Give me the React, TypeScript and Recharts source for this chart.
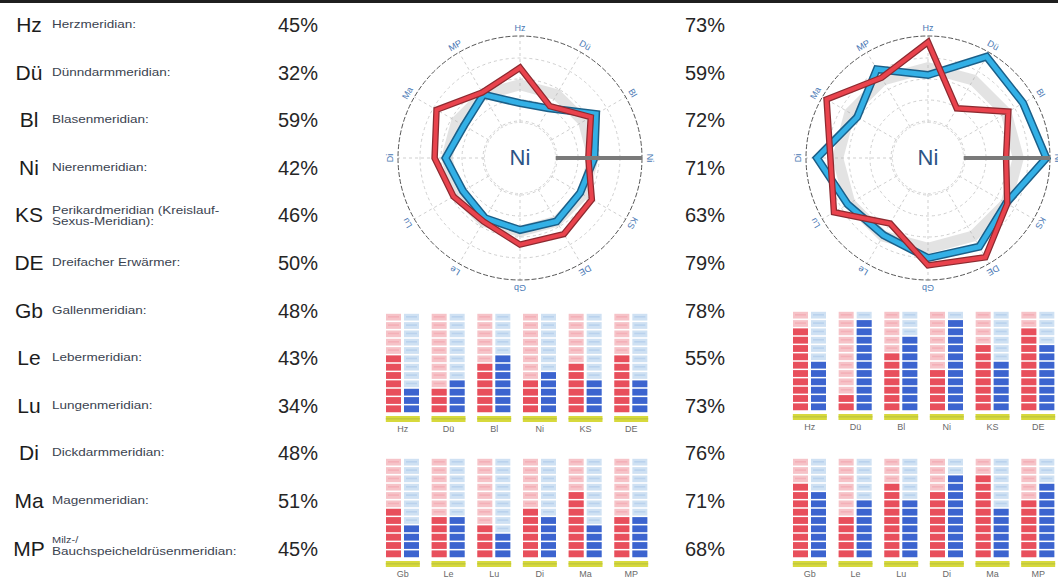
import React from 'react';
import { RadarChart, Radar, PolarGrid, PolarAngleAxis, PolarRadiusAxis, BarChart, Bar, XAxis, YAxis } from 'recharts';

const FONT = '"Liberation Sans", Arial, Helvetica, sans-serif';

// ---------- data ----------
const meridianCodes = ['Hz', 'Dü', 'Bl', 'Ni', 'KS', 'DE', 'Gb', 'Le', 'Lu', 'Di', 'Ma', 'MP'];
const meridianNames = [
  ['Herzmeridian:'],
  ['Dünndarmmeridian:'],
  ['Blasenmeridian:'],
  ['Nierenmeridian:'],
  ['Perikardmeridian (Kreislauf-', 'Sexus-Meridian):'],
  ['Dreifacher Erwärmer:'],
  ['Gallenmeridian:'],
  ['Lebermeridian:'],
  ['Lungenmeridian:'],
  ['Dickdarmmeridian:'],
  ['Magenmeridian:'],
  ['Milz-/', 'Bauchspeicheldrüsenmeridian:'],
];
const firstPercent = [45, 32, 59, 42, 46, 50, 48, 43, 34, 48, 51, 45];
const secondPercent = [73, 59, 72, 71, 63, 79, 78, 55, 73, 76, 71, 68];

const radar1Red = [0.74, 0.49, 0.67, 0.56, 0.68, 0.72, 0.71, 0.6, 0.63, 0.7, 0.79, 0.62];
const radar1Blue = [0.45, 0.47, 0.72, 0.61, 0.57, 0.6, 0.59, 0.57, 0.54, 0.61, 0.53, 0.6];
const radar1Band = [0.6, 0.6, 0.6, 0.6, 0.6, 0.6, 0.6, 0.6, 0.6, 0.6, 0.6, 0.6];
const radar2Red = [0.95, 0.47, 0.76, 0.64, 0.75, 0.94, 0.88, 0.62, 0.89, 0.8, 0.96, 0.76];
const radar2Blue = [0.68, 0.96, 0.9, 0.97, 0.74, 0.84, 0.82, 0.73, 0.76, 0.91, 0.67, 0.84];
const radar2Band = [0.74, 0.74, 0.74, 0.74, 0.74, 0.74, 0.74, 0.74, 0.74, 0.74, 0.74, 0.74];

const bars1Red = [7, 3, 6, 4, 6, 7, 6, 5, 4, 6, 8, 5];
const bars1Blue = [3, 4, 7, 5, 4, 4, 4, 5, 3, 5, 4, 5];
const bars2Red = [10, 2, 7, 5, 8, 10, 9, 5, 9, 8, 10, 7];
const bars2Blue = [6, 11, 9, 11, 6, 8, 8, 7, 7, 10, 6, 9];
const SEGMENTS = 12;

// ---------- styles ----------
const RED = '#e9434d';
const RED_EDGE = '#8c2a30';
const BLUE = '#33b0e6';
const BLUE_EDGE = '#1b5f88';
const BAR_RED = '#e84f5c';
const BAR_BLUE = '#3c64cf';
const FADE_RED = '#f6c3c8';
const FADE_BLUE = '#cfe1f3';

function AngleTick(props: any) {
  const { x, y, payload } = props;
  const i = meridianCodes.indexOf(payload.value);
  const rot = i * 30;
  return (
    <text
      x={x}
      y={y}
      transform={`rotate(${rot} ${x} ${y})`}
      textAnchor="middle"
      dominantBaseline="central"
      fontSize={9}
      fontFamily={FONT}
      fill="#4a78b4"
    >
      {payload.value}
    </text>
  );
}

function MeridianRadar({ left, top, red, blue, band }: any) {
  const data = meridianCodes.map((code, i) => ({ code, red: red[i], blue: blue[i], band: band[i] }));
  return (
    <div style={{ position: 'absolute', left, top, width: 280, height: 280 }}>
      <RadarChart
        width={280}
        height={280}
        data={data}
        cx={140}
        cy={140}
        outerRadius={122}
        margin={{ top: 0, right: 0, bottom: 0, left: 0 }}
      >
        <PolarGrid gridType="circle" polarRadius={[37, 58, 79, 100]} stroke="#cfcfcf" strokeDasharray="3 3" />
        <PolarGrid gridType="circle" polarRadius={[122]} radialLines={false} stroke="#555" strokeDasharray="5 2" />
        <PolarAngleAxis dataKey="code" tick={<AngleTick />} axisLine={false} tickLine={false} />
        <PolarRadiusAxis
          angle={0}
          domain={[0, 1]}
          tick={false}
          axisLine={{ stroke: '#7a7a7a', strokeWidth: 4 }}
        />
        <Radar dataKey="band" stroke="#a8a8a8" strokeOpacity={0.32} strokeWidth={11} fill="none" fillOpacity={0} dot={false} isAnimationActive={false} />
        <Radar dataKey="blue" stroke={BLUE_EDGE} strokeWidth={8} fill="none" fillOpacity={0} dot={false} isAnimationActive={false} />
        <Radar dataKey="blue" stroke={BLUE} strokeWidth={5} fill="none" fillOpacity={0} dot={false} isAnimationActive={false} />
        <Radar dataKey="red" stroke={RED_EDGE} strokeWidth={6.5} fill="none" fillOpacity={0} dot={false} isAnimationActive={false} />
        <Radar dataKey="red" stroke={RED} strokeWidth={4} fill="none" fillOpacity={0} dot={false} isAnimationActive={false} />
      </RadarChart>
      <div
        style={{
          position: 'absolute',
          left: 104,
          top: 104,
          width: 72,
          height: 72,
          borderRadius: '50%',
          background: '#fff',
          border: '1px dashed #d8d8d8',
          boxSizing: 'border-box',
          display: 'flex',
          alignItems: 'center',
          justifyContent: 'center',
          fontFamily: FONT,
          fontSize: 22,
          color: '#2d5586',
        }}
      >
        Ni
      </div>
    </div>
  );
}

function FadedSegments(props: any) {
  const { x, y, width, height, color, ink } = props;
  if (width == null || height == null) return null;
  const segH = height / SEGMENTS;
  return (
    <g>
      {Array.from({ length: SEGMENTS }, (_, k) => (
        <g key={k}>
          <rect x={x} y={y + k * segH + 0.8} width={width} height={segH - 1.6} fill={color} />
          <rect x={x + 2} y={y + k * segH + 3} width={width - 4} height={1.6} fill={ink} opacity={0.45} />
        </g>
      ))}
    </g>
  );
}

function SolidSegments(props: any) {
  const { x, y, width, height, count, color } = props;
  if (!count || !height || height <= 0) return null;
  const segH = height / count;
  return (
    <g>
      {Array.from({ length: count }, (_, k) => (
        <rect
          key={k}
          x={x}
          y={y + height - (k + 1) * segH + 0.8}
          width={width}
          height={segH - 1.6}
          fill={color}
        />
      ))}
    </g>
  );
}

function BarTick(props: any) {
  const { x, y, payload } = props;
  return (
    <g>
      <rect x={x - 17} y={y + 1} width={34} height={6} fill="#d7d93c" />
      <rect x={x - 17} y={y + 3} width={34} height={1.5} fill="#b8c240" opacity={0.7} />
      <text x={x} y={y + 17} textAnchor="middle" fontSize={9} fontFamily={FONT} fill="#6a6a6a">
        {payload.value}
      </text>
    </g>
  );
}

function SegmentBars({ left, top, codes, red, blue }: any) {
  const data = codes.map((code: string, i: number) => ({ code, red: red[i], blue: blue[i] }));
  return (
    <div style={{ position: 'absolute', left, top }}>
      <BarChart
        width={274}
        height={125}
        data={data}
        margin={{ top: 3, right: 0, bottom: 0, left: 0 }}
        barSize={15}
        barGap={3}
      >
        <XAxis dataKey="code" axisLine={false} tickLine={false} interval={0} height={22} tickSize={0} tick={<BarTick />} />
        <YAxis hide domain={[0, SEGMENTS]} />
        <Bar
          dataKey="red"
          fill={BAR_RED}
          isAnimationActive={false}
          background={(p: any) => <FadedSegments key={`bgr${p.index}`} {...p} color={FADE_RED} ink="#f09aa3" />}
          shape={(p: any) => <SolidSegments {...p} count={p.payload.red} color={BAR_RED} />}
        />
        <Bar
          dataKey="blue"
          fill={BAR_BLUE}
          isAnimationActive={false}
          background={(p: any) => <FadedSegments key={`bgb${p.index}`} {...p} color={FADE_BLUE} ink="#9fc0e6" />}
          shape={(p: any) => <SolidSegments {...p} count={p.payload.blue} color={BAR_BLUE} />}
        />
      </BarChart>
    </div>
  );
}

function MeridianList() {
  return (
    <>
      {meridianCodes.map((code, i) => {
        const cy = 25 + i * 47.6;
        const lines = meridianNames[i];
        const isMP = code === 'MP';
        return (
          <React.Fragment key={code}>
            <div
              style={{
                position: 'absolute',
                left: 6,
                width: 46,
                top: cy - 12,
                height: 24,
                lineHeight: '24px',
                textAlign: 'center',
                fontSize: 21,
                color: '#1c1c1c',
                fontFamily: FONT,
              }}
            >
              {code}
            </div>
            <div
              style={{
                position: 'absolute',
                left: 52,
                top: cy - (lines.length * 12) / 2 + (isMP ? -4 : 0),
                fontSize: 13.5,
                lineHeight: lines.length > 1 ? '13px' : '12px',
                color: '#3b4350',
                fontFamily: FONT,
                whiteSpace: 'nowrap',
                transform: 'scaleY(0.85)',
                transformOrigin: 'left center',
              }}
            >
              {lines.map((l, k) => (
                <div key={k} style={isMP && k === 0 ? { fontSize: 11 } : undefined}>
                  {l}
                </div>
              ))}
            </div>
            <div
              style={{
                position: 'absolute',
                left: 266,
                width: 52,
                top: cy - 12,
                height: 24,
                lineHeight: '24px',
                textAlign: 'right',
                fontSize: 20,
                color: '#262626',
                fontFamily: FONT,
              }}
            >
              {firstPercent[i]}%
            </div>
            <div
              style={{
                position: 'absolute',
                left: 673,
                width: 52,
                top: cy - 12,
                height: 24,
                lineHeight: '24px',
                textAlign: 'right',
                fontSize: 20,
                color: '#262626',
                fontFamily: FONT,
              }}
            >
              {secondPercent[i]}%
            </div>
          </React.Fragment>
        );
      })}
    </>
  );
}

export default function App() {
  const topCodes = meridianCodes.slice(0, 6);
  const bottomCodes = meridianCodes.slice(6);
  return (
    <div
      style={{
        position: 'fixed',
        left: 0,
        top: 0,
        width: 1058,
        height: 580,
        overflow: 'hidden',
        background: '#ffffff',
      }}
    >
      <div style={{ position: 'absolute', left: 0, top: 0, width: 1058, height: 3, background: '#1f1f1f' }} />
      <MeridianList />
      <MeridianRadar left={380} top={18} red={radar1Red} blue={radar1Blue} band={radar1Band} />
      <MeridianRadar left={788} top={18} red={radar2Red} blue={radar2Blue} band={radar2Band} />
      <SegmentBars left={380} top={310} codes={topCodes} red={bars1Red.slice(0, 6)} blue={bars1Blue.slice(0, 6)} />
      <SegmentBars left={380} top={455} codes={bottomCodes} red={bars1Red.slice(6)} blue={bars1Blue.slice(6)} />
      <SegmentBars left={787} top={308} codes={topCodes} red={bars2Red.slice(0, 6)} blue={bars2Blue.slice(0, 6)} />
      <SegmentBars left={787} top={455} codes={bottomCodes} red={bars2Red.slice(6)} blue={bars2Blue.slice(6)} />
    </div>
  );
}
